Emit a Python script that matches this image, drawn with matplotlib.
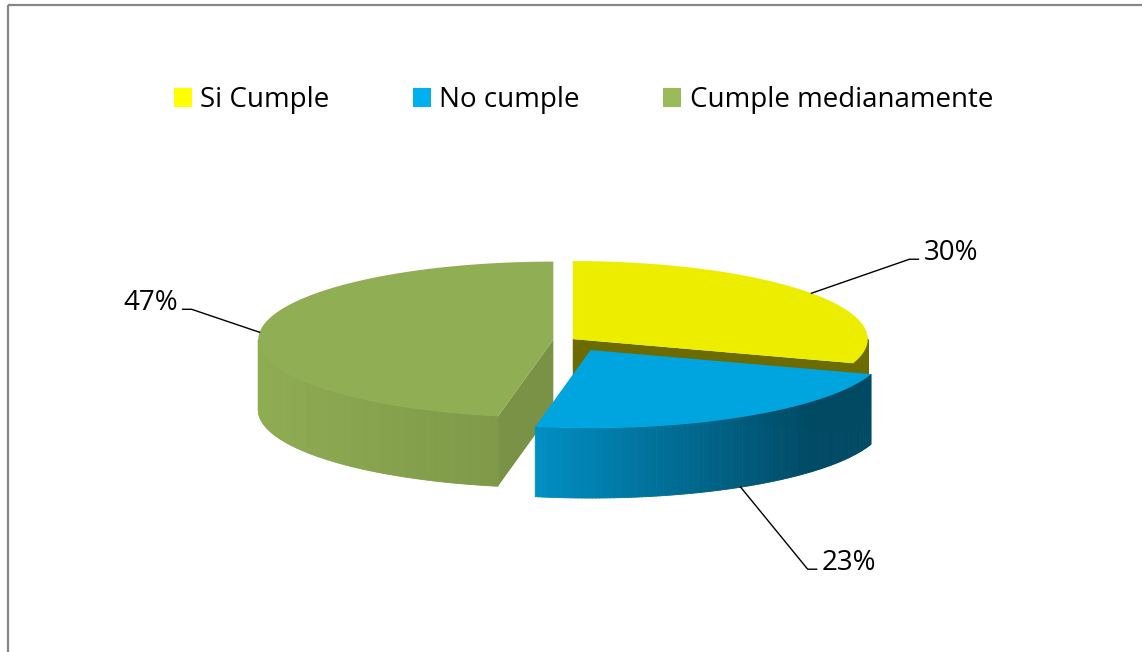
import numpy as np
import matplotlib
matplotlib.use("Agg")
import matplotlib.pyplot as plt
from matplotlib.patches import Polygon, Patch, Rectangle
from matplotlib.collections import PolyCollection
from matplotlib.colors import to_rgb

# datos de la encuesta
categorias = ["Si Cumple", "No cumple", "Cumple medianamente"]
porcentajes = [30, 23, 47]
colores = ["#FFFF00", "#00B0F0", "#9BBB59"]

# estilo del pastel 3D (en pixeles)
separacion = [0.02, 0.15, 0.05]
sombra_corte = [0.42, 0.6, 0.78]
etiqueta_desp = [(98, -34), (67, 82), (-68, -23)]
cx, cy = 568, 340
rx, ry = 295, 78
prof = 70

plt.rcParams['font.family'] = ['Open Sans', 'DejaVu Sans']

fig = plt.figure(figsize=(11.42, 6.52), dpi=100)
ax = fig.add_axes([0, 0, 1, 1])
ax.set_xlim(0, 1142)
ax.set_ylim(652, 0)
ax.axis('off')

# marco del grafico
ax.add_patch(Rectangle((8, 5), 1200, 700, fill=False, edgecolor='#878787', lw=1.6))


def punto(c, t, dz=0):
    return (c[0] + rx * np.cos(np.radians(t)), c[1] - ry * np.sin(np.radians(t)) + dz)


def luz(t):
    # sombreado de la pared lateral: mas claro a la izquierda, oscuro a la derecha
    u = np.cos(np.radians(t))
    return np.interp(u, [-1.0, -0.2, 0.75, 1.0], [0.92, 0.82, 0.42, 0.42])


# angulos de cada rebanada (sentido horario desde las 12)
total = float(sum(porcentajes))
rebanadas = []
ini = 90.0
for i, p in enumerate(porcentajes):
    fin = ini - 360.0 * p / total
    medio = (ini + fin) / 2.0
    c = (cx + separacion[i] * rx * np.cos(np.radians(medio)),
         cy - separacion[i] * ry * np.sin(np.radians(medio)))
    rebanadas.append((i, ini, fin, medio, c))
    ini = fin

# de atras hacia adelante
orden = sorted(rebanadas, key=lambda r: -np.sin(np.radians(r[3])))

for i, a, b, m, c in orden:
    base = np.array(to_rgb(colores[i]))

    # caras de corte visibles
    for t, vis in ((a, np.cos(np.radians(a)) < -1e-6), (b, np.cos(np.radians(b)) > 1e-6)):
        if vis:
            p = punto(c, t)
            cara = [c, p, (p[0], p[1] + prof), (c[0], c[1] + prof)]
            ax.add_patch(Polygon(cara, closed=True, facecolor=base * sombra_corte[i],
                                 edgecolor='none'))

    # pared curva frontal
    lo, hi = max(b, -180.0), min(a, 0.0)
    if hi > lo:
        ts = np.linspace(lo, hi, 120)
        quads, cols = [], []
        for t0, t1 in zip(ts[:-1], ts[1:]):
            p0, p1 = punto(c, t0), punto(c, t1)
            quads.append([p0, p1, (p1[0], p1[1] + prof), (p0[0], p0[1] + prof)])
            cols.append(np.clip(base * luz((t0 + t1) / 2), 0, 1))
        ax.add_collection(PolyCollection(quads, facecolors=cols, edgecolors=cols, linewidths=0.6))

    # cara superior
    ts = np.linspace(a, b, 200)
    sup = [c] + [punto(c, t) for t in ts]
    ax.add_patch(Polygon(sup, closed=True, facecolor=base * 0.93, edgecolor='none'))

# etiquetas con lineas guia
for i, a, b, m, c in rebanadas:
    ancla = punto(c, m, prof if np.sin(np.radians(m)) < -0.5 else 0)
    dx, dy = etiqueta_desp[i]
    codo = (ancla[0] + dx, ancla[1] + dy)
    lado = 1 if dx > 0 else -1
    fin_x = codo[0] + lado * 9
    ax.plot([ancla[0], codo[0], fin_x], [ancla[1], codo[1], codo[1]], color='black', lw=1.0)
    ax.text(fin_x + lado * 5, codo[1] + 1, f"{porcentajes[i]}%", fontsize=20,
            ha='left' if lado > 0 else 'right', va='baseline', color='black')

# leyenda
manijas = [Patch(facecolor=col, edgecolor='none') for col in colores]
ax.legend(manijas, categorias, loc='center', bbox_to_anchor=(583.5 / 1142, 1 - 100 / 652),
          ncol=3, frameon=False, fontsize=20, handlelength=0.65, handleheight=0.65,
          handletextpad=0.3, columnspacing=3.0)

fig.savefig("out.png", dpi=100)
